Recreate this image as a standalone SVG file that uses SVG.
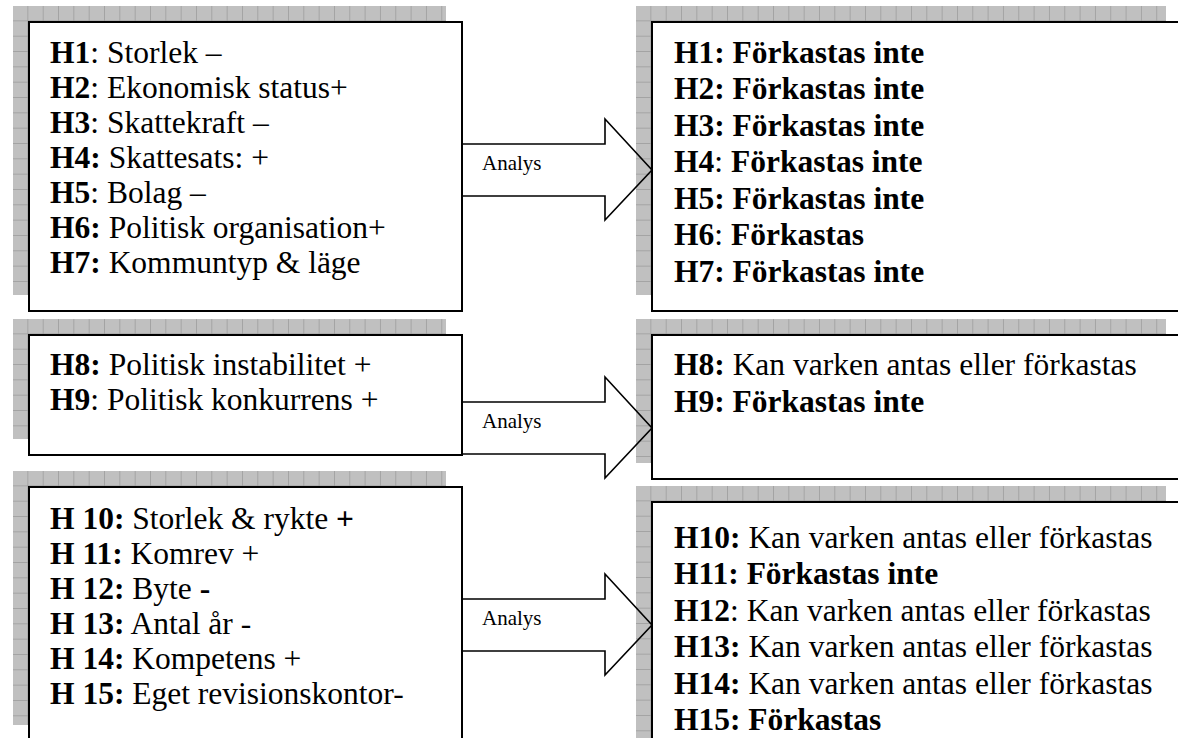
<svg xmlns="http://www.w3.org/2000/svg" width="1178" height="738" viewBox="0 0 1178 738">
<defs>
<style>
.box{fill:#fff;stroke:#000;stroke-width:2}
.arr{fill:none;stroke:#000;stroke-width:1.6;stroke-linejoin:miter}
.t{font-family:"Liberation Serif","Times New Roman",serif;font-size:31.5px;fill:#000}
.b{font-weight:bold}
.lab{font-family:"Liberation Serif","Times New Roman",serif;font-size:21px;fill:#000}
</style>
<g id="tile"><rect width="15.33" height="15.33" fill="#c0c0c0"/><rect x="14.6" width="0.9" height="15.33" fill="#9a9a9a"/><rect y="14.6" width="15.33" height="0.9" fill="#9a9a9a"/></g>
<pattern id="pL1" patternUnits="userSpaceOnUse" x="13" y="6" width="15.33" height="15.33"><use href="#tile"/></pattern>
<pattern id="pL2" patternUnits="userSpaceOnUse" x="13" y="319" width="15.33" height="15.33"><use href="#tile"/></pattern>
<pattern id="pL3" patternUnits="userSpaceOnUse" x="13" y="471" width="15.33" height="15.33"><use href="#tile"/></pattern>
<pattern id="pR1" patternUnits="userSpaceOnUse" x="636" y="6" width="15.33" height="15.33"><use href="#tile"/></pattern>
<pattern id="pR2" patternUnits="userSpaceOnUse" x="636" y="319" width="15.33" height="15.33"><use href="#tile"/></pattern>
<pattern id="pR3" patternUnits="userSpaceOnUse" x="636" y="486" width="15.33" height="15.33"><use href="#tile"/></pattern>
</defs>
<rect width="1178" height="738" fill="#fff"/>

<g id="nodeL1">
<rect x="13" y="6" width="433" height="289" fill="url(#pL1)"/>
<rect class="box" x="29" y="22" width="433" height="289"/>
<text class="t" x="50" y="62.5"><tspan class="b">H1</tspan>: Storlek –</text>
<text class="t" x="50" y="97.5"><tspan class="b">H2</tspan>: Ekonomisk status+</text>
<text class="t" x="50" y="132.5"><tspan class="b">H3</tspan>: Skattekraft –</text>
<text class="t" x="50" y="167.5"><tspan class="b">H4:</tspan> Skattesats: +</text>
<text class="t" x="50" y="202.5"><tspan class="b">H5</tspan>: Bolag –</text>
<text class="t" x="50" y="237.5"><tspan class="b">H6:</tspan> Politisk organisation+</text>
<text class="t" x="50" y="272.5"><tspan class="b">H7:</tspan> Kommuntyp &amp; läge</text>
</g>

<g id="nodeR1">
<rect x="636" y="6" width="530" height="289" fill="url(#pR1)"/>
<rect class="box" x="652" y="22" width="540" height="289"/>
<text class="t b" x="674" y="62.5">H1: Förkastas inte</text>
<text class="t b" x="674" y="99">H2: Förkastas inte</text>
<text class="t b" x="674" y="135.5">H3: Förkastas inte</text>
<text class="t" x="674" y="172"><tspan class="b">H4</tspan>: <tspan class="b">Förkastas inte</tspan></text>
<text class="t b" x="674" y="208.5">H5: Förkastas inte</text>
<text class="t" x="674" y="245"><tspan class="b">H6</tspan>: <tspan class="b">Förkastas</tspan></text>
<text class="t b" x="674" y="281.5">H7: Förkastas inte</text>
</g>

<g id="nodeL2">
<rect x="13" y="319" width="433" height="120" fill="url(#pL2)"/>
<rect class="box" x="29" y="335" width="433" height="120"/>
<text class="t" x="50" y="375"><tspan class="b">H8:</tspan> Politisk instabilitet +</text>
<text class="t" x="50" y="410"><tspan class="b">H9</tspan>: Politisk konkurrens +</text>
</g>

<g id="nodeR2">
<rect x="636" y="319" width="530" height="144" fill="url(#pR2)"/>
<rect class="box" x="652" y="335" width="540" height="144"/>
<text class="t" x="674" y="375"><tspan class="b">H8:</tspan> Kan varken antas eller förkastas</text>
<text class="t b" x="674" y="411.5">H9: Förkastas inte</text>
</g>

<g id="nodeL3">
<rect x="13" y="471" width="433" height="254" fill="url(#pL3)"/>
<rect class="box" x="29" y="487" width="433" height="260"/>
<text class="t" x="50" y="529"><tspan class="b">H 10:</tspan> Storlek &amp; rykte <tspan class="b">+</tspan></text>
<text class="t" x="50" y="564"><tspan class="b">H 11:</tspan> Komrev +</text>
<text class="t" x="50" y="599"><tspan class="b">H 12:</tspan> Byte <tspan class="b">-</tspan></text>
<text class="t" x="50" y="634"><tspan class="b">H 13:</tspan> Antal år -</text>
<text class="t" x="50" y="669"><tspan class="b">H 14:</tspan> Kompetens +</text>
<text class="t" x="50" y="704"><tspan class="b">H 15:</tspan> Eget revisionskontor-</text>
</g>

<g id="nodeR3">
<rect x="636" y="486" width="530" height="260" fill="url(#pR3)"/>
<rect class="box" x="652" y="502" width="540" height="260"/>
<text class="t" x="674" y="548"><tspan class="b">H10:</tspan> Kan varken antas eller förkastas</text>
<text class="t b" x="674" y="584.4">H11: Förkastas inte</text>
<text class="t" x="674" y="620.8"><tspan class="b">H12</tspan>: Kan varken antas eller förkastas</text>
<text class="t" x="674" y="657.2"><tspan class="b">H13:</tspan> Kan varken antas eller förkastas</text>
<text class="t" x="674" y="693.6"><tspan class="b">H14:</tspan> Kan varken antas eller förkastas</text>
<text class="t b" x="674" y="730">H15: Förkastas</text>
</g>

<g id="connectors">
<g id="arrow1">
<polygon class="arr" points="462,144 605,144 605,119 652,170 605,220 605,196 462,196"/>
<text class="lab" x="482" y="170">Analys</text>
</g>
<g id="arrow2">
<polygon class="arr" points="462,402 605,402 605,377 652,428 605,478 605,454 462,454"/>
<text class="lab" x="482" y="428">Analys</text>
</g>
<g id="arrow3">
<polygon class="arr" points="462,599 605,599 605,574 652,625 605,675 605,651 462,651"/>
<text class="lab" x="482" y="625">Analys</text>
</g>
</g>
</svg>
